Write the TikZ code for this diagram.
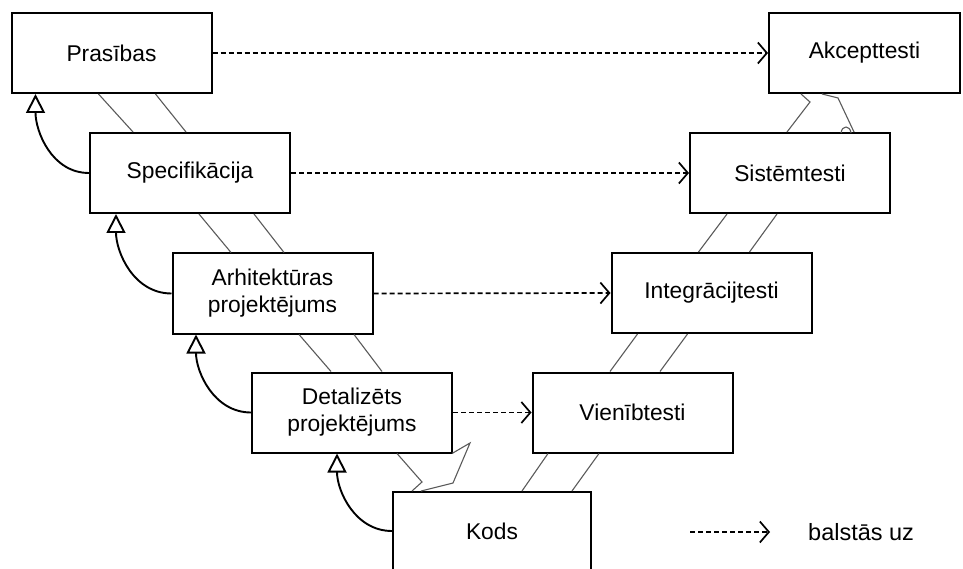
\documentclass[tikz,border=0pt]{standalone}
\usepackage{fontspec}
\setmainfont{Liberation Sans}
\usetikzlibrary{arrows.meta,calc}

\definecolor{bandgray}{HTML}{5A5A5A}

\tikzset{
  stagebox/.style={draw=black, line width=2pt, fill=white,
    minimum width=200pt, minimum height=80pt, inner sep=0pt,
    align=center, font=\fontsize{22.8}{27}\selectfont},
  dep/.style={line width=1.7pt, dash pattern=on 5pt off 3pt,
    -{Straight Barb[length=9pt,width=21pt,line width=1.7pt]}},
  gen/.style={line width=1.9pt,
    -{Triangle[open,length=19pt,width=19pt,line width=1.9pt]}},
  band/.style={draw=bandgray, line width=1.1pt, line join=miter},
}

\begin{document}
\begin{tikzpicture}[x=1pt, y=-1pt]
  \useasboundingbox (0,0) rectangle (963,569);
  \clip (0,0) rectangle (963,569);

  % development stages (left branch of the V)
  \node[stagebox] (pras) at (111.5,53)  {Prasības};
  \node[stagebox] (spec) at (190,173)   {Specifikācija};
  \node[stagebox] (arch) at (272.5,293.5) {Arhitektūras\\projektējums};
  \node[stagebox] (det)  at (352,412.5) {Detalizēts\\projektējums};
  \node[stagebox, minimum width=198pt, minimum height=78pt] (kods) at (492,531) {Kods};

  % test stages (right branch of the V)
  \node[stagebox] (vien)  at (632.5,412.5) {Vienībtesti};
  \node[stagebox] (integ) at (711.5,293)   {Integrācijtesti};
  \node[stagebox] (sist)  at (790,173)     {Sistēmtesti};
  \node[stagebox, minimum width=191pt] (akc) at (864.5,53) {Akcepttesti};

  % band joining consecutive stages
  \draw[band] ([xshift=88pt]pras.south west) -- ([xshift=44pt]spec.north west);
  \draw[band] ([xshift=145pt]pras.south west) -- ([xshift=97pt]spec.north west);
  \draw[band] ([xshift=110pt]spec.south west) -- ([xshift=59.5pt]arch.north west);
  \draw[band] ([xshift=165pt]spec.south west) -- ([xshift=112.5pt]arch.north west);
  \draw[band] ([xshift=127.5pt]arch.south west) -- ([xshift=80pt]det.north west);
  \draw[band] ([xshift=182.5pt]arch.south west) -- ([xshift=131pt]det.north west);
  \draw[band] ([xshift=146pt]det.south west) -- (422,482) -- ([xshift=20pt]kods.north west);
  \draw[band] ([xshift=201pt]det.south west) -- (470,443) -- (453,483) -- ([xshift=29pt]kods.north west);
  \draw[band] ([xshift=130pt]kods.north west) -- ([xshift=16.5pt]vien.south west);
  \draw[band] ([xshift=180pt]kods.north west) -- ([xshift=67.5pt]vien.south west);
  \draw[band] ([xshift=78.5pt]vien.north west) -- ([xshift=27pt]integ.south west);
  \draw[band] ([xshift=128.5pt]vien.north west) -- ([xshift=77pt]integ.south west);
  \draw[band] ([xshift=88pt]integ.north west) -- ([xshift=38pt]sist.south west);
  \draw[band] ([xshift=139pt]integ.north west) -- ([xshift=88pt]sist.south west);
  \draw[band] ([xshift=98pt]sist.north west) -- (810,102) -- ([xshift=33pt]akc.south west);
  \draw[band] ([xshift=54pt]akc.south west) -- (838,98) -- ([xshift=165pt]sist.north west);
  \draw[band] (841,133) .. controls (842,125) and (850,125) .. (851,133);

  % "based on" relations
  \draw[dep] (pras.east) -- (akc.west);
  \draw[dep] (spec.east) -- (sist.west);
  \draw[dep] (arch.east) -- (integ.west);
  \draw[dep] (det.east)  -- (vien.west);

  % refinement arrows
  \draw[gen] (spec.west) to[out=180,in=-90] ([xshift=25pt]pras.south west);
  \draw[gen] (arch.west) to[out=180,in=-90] ([xshift=27pt]spec.south west);
  \draw[gen] (det.west)  to[out=180,in=-90] ([xshift=24.5pt]arch.south west);
  \draw[gen] (kods.west) to[out=180,in=-90] ([xshift=86pt]det.south west);

  % legend
  \coordinate (legA) at (690,532);
  \coordinate (legB) at (770,532);
  \draw[dep] (legA) -- (legB);
  \node[anchor=west, inner sep=0pt, font=\fontsize{23.5}{27}\selectfont] (legtext) at (808,532) {balstās uz};
\end{tikzpicture}
\end{document}
